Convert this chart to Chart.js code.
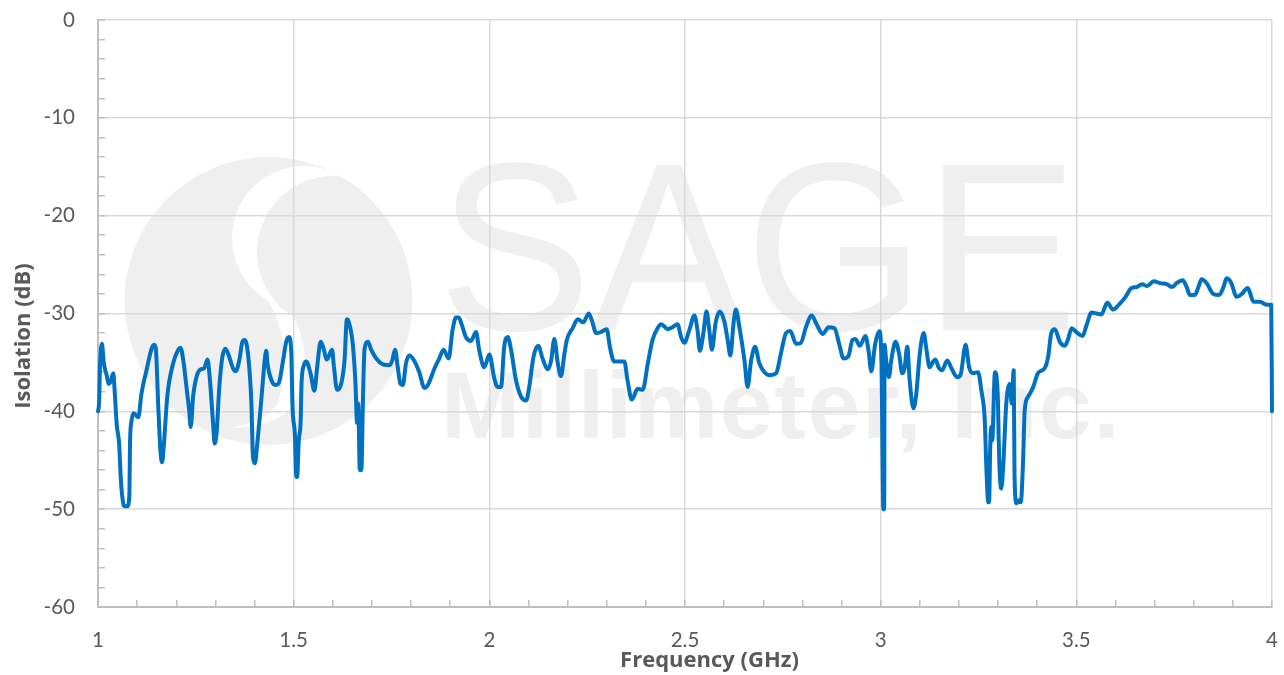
<!DOCTYPE html>
<html>
<head>
<meta charset="utf-8">
<script src="https://cdn.jsdelivr.net/npm/chart.js@4/dist/chart.umd.min.js"></script>
<style>
  html, body { margin: 0; padding: 0; background: #fff; }
  #wrap { width: 1284px; height: 675px; }
</style>
</head>
<body>
<div id="wrap"><canvas id="isolationChart" width="1284" height="675"></canvas></div>
<script>
const frequencyGHz = [
  1.000,1.003,1.005,1.010,1.015,1.022,1.027,1.032,1.039,1.043,
  1.048,1.054,1.058,1.062,1.067,1.075,1.080,1.082,1.086,1.091,
  1.097,1.103,1.111,1.124,1.137,1.144,1.148,1.154,1.160,1.164,
  1.168,1.177,1.192,1.205,1.211,1.219,1.226,1.233,1.237,1.243,
  1.253,1.263,1.271,1.280,1.286,1.294,1.298,1.303,1.310,1.318,
  1.326,1.335,1.345,1.352,1.361,1.369,1.375,1.384,1.392,1.396,
  1.401,1.407,1.418,1.426,1.430,1.433,1.443,1.453,1.462,1.473,
  1.481,1.488,1.494,1.497,1.503,1.507,1.509,1.513,1.518,1.520,
  1.526,1.532,1.543,1.553,1.560,1.569,1.575,1.585,1.598,1.603,
  1.611,1.622,1.630,1.636,1.641,1.651,1.658,1.662,1.665,1.669,
  1.673,1.677,1.681,1.690,1.698,1.711,1.728,1.745,1.752,1.759,
  1.766,1.773,1.779,1.787,1.796,1.809,1.821,1.834,1.843,1.860,
  1.872,1.883,1.896,1.906,1.915,1.922,1.930,1.940,1.953,1.966,
  1.974,1.987,2.000,2.013,2.021,2.030,2.038,2.047,2.055,2.068,
  2.081,2.094,2.102,2.113,2.125,2.136,2.149,2.158,2.166,2.175,
  2.183,2.192,2.198,2.213,2.226,2.240,2.254,2.262,2.273,2.285,
  2.300,2.308,2.319,2.345,2.353,2.364,2.379,2.392,2.405,2.417,
  2.430,2.439,2.456,2.468,2.481,2.490,2.498,2.511,2.524,2.532,
  2.538,2.547,2.555,2.562,2.569,2.578,2.589,2.601,2.609,2.616,
  2.624,2.630,2.639,2.652,2.660,2.669,2.679,2.690,2.703,2.716,
  2.733,2.745,2.758,2.769,2.784,2.796,2.809,2.824,2.835,2.852,
  2.867,2.882,2.894,2.905,2.917,2.928,2.935,2.947,2.961,2.969,
  2.976,2.986,2.997,3.002,3.007,3.009,3.010,3.014,3.021,3.027,
  3.038,3.047,3.055,3.061,3.068,3.074,3.084,3.091,3.100,3.110,
  3.117,3.125,3.134,3.140,3.148,3.157,3.170,3.181,3.195,3.204,
  3.217,3.226,3.236,3.249,3.257,3.266,3.270,3.275,3.277,3.280,
  3.283,3.285,3.292,3.299,3.303,3.308,3.313,3.321,3.330,3.335,
  3.340,3.342,3.347,3.353,3.358,3.364,3.368,3.377,3.390,3.402,
  3.419,3.428,3.436,3.445,3.458,3.471,3.479,3.488,3.500,3.516,
  3.526,3.539,3.552,3.564,3.579,3.594,3.611,3.624,3.641,3.654,
  3.668,3.681,3.698,3.714,3.731,3.745,3.756,3.772,3.782,3.790,
  3.803,3.812,3.820,3.833,3.850,3.865,3.876,3.884,3.895,3.910,
  3.923,3.938,3.953,3.969,3.986,3.998,4.000
];

const isolationDb = [
  -40,-38.9,-35.5,-33.1,-35.1,-36.3,-37.2,-37,-36.1,-38.2,
  -41.4,-43.3,-46.7,-48.7,-49.7,-49.7,-48.7,-43,-40.9,-40.2,
  -40.4,-40.6,-38.2,-35.8,-33.6,-33.2,-33.7,-39.5,-44.3,-45.2,
  -43.6,-38.5,-35.1,-33.7,-33.5,-35.1,-37.5,-39.9,-41.6,-38.5,
  -36.3,-35.7,-35.6,-34.7,-36.8,-41.2,-43.3,-42.2,-37.5,-34.4,
  -33.6,-34.4,-35.6,-35.9,-34.8,-32.9,-32.7,-34.4,-39.2,-44.7,
  -45.3,-43.3,-38.5,-34.8,-33.8,-35.1,-36.8,-37.3,-37.1,-34.8,
  -32.9,-32.4,-34.1,-39.5,-42.3,-46.7,-46.7,-43,-40.9,-37.2,
  -35.3,-34.9,-36.1,-37.9,-35.5,-32.9,-33.4,-34.7,-33.7,-35.5,
  -37.8,-37.1,-34.8,-30.6,-30.9,-33.1,-37.2,-41.2,-39.2,-46,
  -46,-38.9,-33.7,-32.9,-33.7,-34.6,-35.2,-35.3,-34.8,-33.7,
  -35.5,-37.2,-37.3,-35.1,-34.3,-34.9,-36,-37.6,-37.3,-35.6,
  -34.6,-33.7,-34.6,-31.7,-30.4,-30.4,-31.2,-32.4,-32.8,-31.9,
  -33.7,-35.5,-34.2,-36.7,-37.5,-37.5,-33.4,-32.4,-33.6,-36.8,
  -38.5,-38.9,-37.5,-34.4,-33.3,-34.6,-35.7,-34.8,-32.6,-35.1,
  -36.4,-34.1,-32.7,-31.5,-30.6,-30.9,-30,-30.7,-32,-31.9,
  -31.6,-33.4,-34.9,-34.9,-36.8,-38.8,-37.7,-37.8,-35.1,-32.7,
  -31.5,-31.1,-31.6,-31.4,-31.1,-32.4,-33,-31.7,-30.2,-31.7,
  -33.8,-32,-29.8,-31.7,-33.7,-31,-29.8,-30.9,-32.7,-34.3,
  -31,-29.6,-31.4,-34.8,-37.5,-34.8,-33.4,-35.1,-36,-36.3,
  -36.1,-34.1,-32,-31.8,-33.1,-33,-31.4,-30.2,-31,-32.1,
  -31.4,-31.5,-33.1,-34.6,-34.4,-32.7,-32.6,-33.3,-32.3,-33.8,
  -35.9,-33.1,-31.8,-35,-50,-50,-33.2,-34.8,-36.5,-34.8,
  -32.9,-34.1,-36.1,-35.6,-33.4,-36.8,-39.7,-38.2,-34.1,-32,
  -33.7,-35.5,-34.9,-34.7,-35.5,-35.8,-34.8,-35.6,-36.5,-36.3,
  -33.2,-35.5,-36.1,-36,-37.8,-40.9,-45.7,-49.3,-49.3,-43.6,
  -41.6,-43,-36,-38.2,-45,-47.9,-45.7,-39.2,-37.2,-39.2,
  -35.8,-46.4,-49.4,-49.1,-49.3,-45,-39.9,-38.5,-37.5,-36.1,
  -35.6,-34.4,-32,-31.6,-32.9,-33.3,-32.6,-31.5,-31.9,-32.3,
  -31.2,-29.9,-30,-30.1,-28.9,-29.6,-29,-28.4,-27.4,-27.3,
  -27,-27.2,-26.7,-26.9,-27,-27.3,-26.9,-26.6,-27.3,-28.1,
  -28.1,-27.3,-26.5,-26.9,-28,-28.1,-27.3,-26.4,-26.8,-28.3,
  -28,-27.4,-28.8,-28.8,-29.1,-29.1,-40
];

const xTickLabels = ['1', '1.5', '2', '2.5', '3', '3.5', '4'];
const yTickLabels = ['0', '-10', '-20', '-30', '-40', '-50', '-60'];
const xAxisTitle = 'Frequency (GHz)';
const yAxisTitle = 'Isolation (dB)';

const GRID = '#d9d9d9';
const AXIS = '#bfbfbf';
const TEXT = '#595959';
const MARK = '#efefef';

// company watermark, sits under the grid
const watermark = {
  id: 'watermark',
  beforeDraw(chart) {
    const c = chart.ctx;
    c.save();
    c.fillStyle = '#fff';
    c.fillRect(0, 0, chart.width, chart.height);

    c.save();
    c.fillStyle = MARK;
    c.beginPath();
    c.arc(268.5, 301, 144, 0, Math.PI * 2);
    c.fill();
    c.clip();

    // white crescent
    c.fillStyle = '#fff';
    c.beginPath();
    c.arc(304, 238, 72, 0, Math.PI * 2);
    c.fill();
    // white tail of the S
    c.beginPath();
    c.moveTo(264, 296);
    c.bezierCurveTo(285, 320, 290, 370, 277, 405);
    c.quadraticCurveTo(262, 424, 227, 428);
    c.quadraticCurveTo(275, 428, 292, 407);
    c.bezierCurveTo(312, 375, 305, 335, 293, 316);
    c.closePath();
    c.fill();
    // inner grey ball
    c.fillStyle = MARK;
    c.beginPath();
    c.arc(333, 252, 76, 0, Math.PI * 2);
    c.fill();
    c.restore();

    c.fillStyle = MARK;
    c.textAlign = 'left';
    c.textBaseline = 'alphabetic';
    c.font = '240px "Liberation Sans"';
    c.fillText('SAGE', 438, 330, 640);
    c.font = 'bold 95px "Liberation Sans"';
    c.letterSpacing = '1.6px';
    c.fillText('Millimeter, Inc.', 441, 438);
    c.restore();
  }
};

// the axis titles are off centre in the original, so they are placed by hand
const axisTitles = {
  id: 'axisTitles',
  afterDraw(chart) {
    const c = chart.ctx;
    c.save();
    c.fillStyle = TEXT;
    c.font = 'bold 22px "Open Sans"';
    c.textAlign = 'center';
    c.textBaseline = 'middle';
    c.fillText(xAxisTitle, 709.5, 661);
    c.translate(24, 336);
    c.rotate(-Math.PI / 2);
    c.fillText(yAxisTitle, 0, 0);
    c.restore();
  }
};

function nearMultiple(v, step) {
  return Math.abs(v / step - Math.round(v / step)) < 1e-6;
}

new Chart(document.getElementById('isolationChart'), {
  type: 'line',
  data: {
    datasets: [{
      label: 'Isolation',
      data: frequencyGHz.map((f, i) => ({ x: f, y: isolationDb[i] })),
      borderColor: '#0070c0',
      borderWidth: 4,
      borderCapStyle: 'round',
      borderJoinStyle: 'round',
      cubicInterpolationMode: 'monotone',
      pointRadius: 0,
      clip: 5,
      fill: false
    }]
  },
  plugins: [watermark, axisTitles],
  options: {
    responsive: false,
    animation: false,
    layout: { padding: { top: 20, right: 12, left: 0, bottom: 0 } },
    plugins: { legend: { display: false }, tooltip: { enabled: false } },
    scales: {
      x: {
        type: 'linear',
        min: 1,
        max: 4,
        afterFit: s => { s.height = 68; s.paddingLeft = 0; s.paddingRight = 0; },
        border: { color: AXIS, width: 2 },
        grid: {
          color: ctx => nearMultiple(ctx.tick.value, 0.5) ? GRID : 'rgba(0,0,0,0)',
          lineWidth: 1.5,
          tickColor: AXIS,
          tickLength: -7,
          tickWidth: 1.5
        },
        ticks: {
          stepSize: 0.1,
          autoSkip: false,
          maxRotation: 0,
          padding: 28,
          color: TEXT,
          font: { family: 'Lato', size: 20.5 },
          callback: v => nearMultiple(v, 0.5) ? xTickLabels[Math.round((v - 1) * 2)] : ''
        }
      },
      y: {
        min: -60,
        max: 0,
        afterFit: s => { s.width = 98; s.paddingTop = 0; s.paddingBottom = 0; },
        border: { color: AXIS, width: 2 },
        grid: {
          color: ctx => nearMultiple(ctx.tick.value, 10) ? GRID : 'rgba(0,0,0,0)',
          lineWidth: 1.5,
          tickColor: AXIS,
          tickLength: -7,
          tickWidth: 1.5
        },
        ticks: {
          stepSize: 2,
          autoSkip: false,
          padding: 30,
          color: TEXT,
          font: { family: 'Lato', size: 20.5 },
          callback: v => nearMultiple(v, 10) ? yTickLabels[Math.round(-v / 10)] : ''
        }
      }
    }
  }
});
</script>
</body>
</html>
